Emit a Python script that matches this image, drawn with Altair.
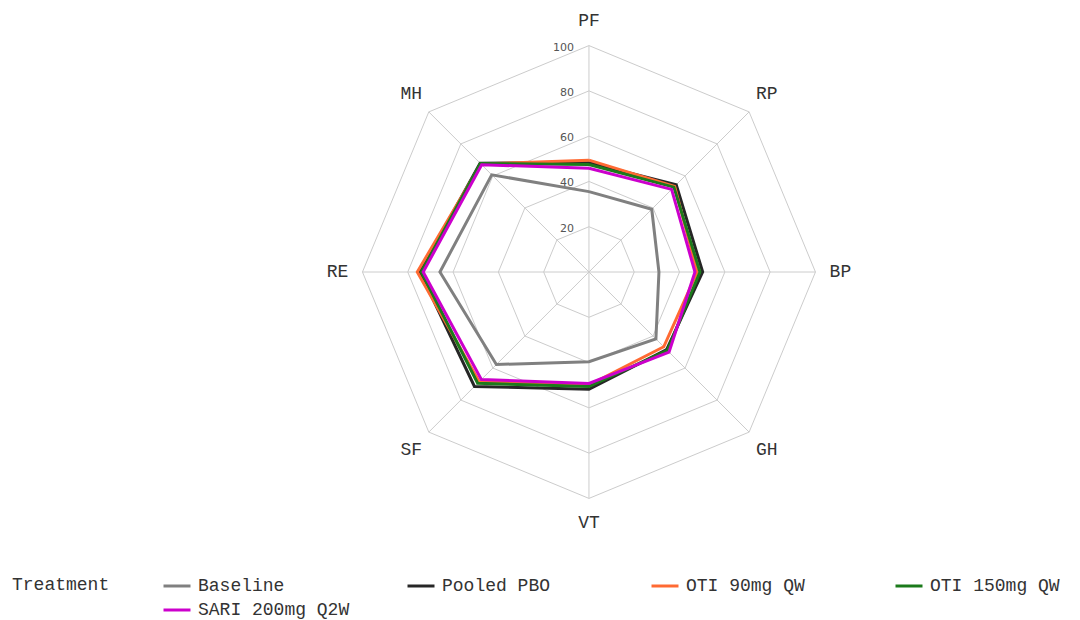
import altair as alt
import pandas as pd

categories = ["PF", "RP", "BP", "GH", "VT", "SF", "RE", "MH"]
angles_deg = [0, 45, 90, 135, 180, 225, 270, 315]
treatments = ["Baseline", "Pooled PBO", "OTI 90mg QW", "OTI 150mg QW", "SARI 200mg Q2W"]
baseline = [35.5, 39.2, 30.9, 41.8, 39.6, 57.8, 65.8, 60.7]
pooled_pbo = [48.3, 54.5, 50.2, 48.5, 51.8, 71.5, 74.6, 68.0]
oti_90 = [49.4, 53.5, 47.8, 46.7, 49.9, 68.5, 75.8, 67.5]
oti_150 = [47.5, 53.0, 49.0, 49.0, 50.6, 69.5, 74.0, 67.8]
sari_200 = [45.8, 51.6, 46.8, 50.0, 49.2, 67.2, 73.2, 67.0]
series = [baseline, pooled_pbo, oti_90, oti_150, sari_200]
colors = ["#808080", "#262626", "#ff6a33", "#1b7a1b", "#cc00cc"]
grid_levels = [20, 40, 60, 80, 100]
label_radius = 111
legend_title = "Treatment"

FONT = "Liberation Mono"

# series table (closed polygons)
rows = []
for t, vals in zip(treatments, series):
    for i in range(len(categories) + 1):
        k = i % len(categories)
        rows.append({"Treatment": t, "cat": categories[k], "deg": angles_deg[k], "value": vals[k], "idx": i})
df = pd.DataFrame(rows)

grid_rows = []
for lv in grid_levels:
    for i in range(len(categories) + 1):
        k = i % len(categories)
        grid_rows.append({"level": lv, "deg": angles_deg[k], "idx": i})
grid_df = pd.DataFrame(grid_rows)

spoke_df = pd.DataFrame({"cat": categories, "deg": angles_deg, "r": [100] * len(categories)})
label_df = pd.DataFrame({"cat": categories, "deg": angles_deg, "r": [label_radius] * len(categories)})
tick_df = pd.DataFrame({"level": grid_levels, "text": [str(v) for v in grid_levels]})
title_df = pd.DataFrame({"t": [legend_title]})

W, H = 1060, 540
xscale = alt.Scale(domain=[-256.5, 211.5], nice=False, zero=False)
yscale = alt.Scale(domain=[-121.9, 116.6], nice=False, zero=False)
noax = None

grid = alt.Chart(grid_df).transform_calculate(
    px="datum.level * sin(datum.deg * PI / 180)",
    py="datum.level * cos(datum.deg * PI / 180)",
).mark_line(color="#cccccc", strokeWidth=1).encode(
    x=alt.X("px:Q", scale=xscale, axis=noax),
    y=alt.Y("py:Q", scale=yscale, axis=noax),
    detail="level:N",
    order="idx:Q",
)

spokes = alt.Chart(spoke_df).transform_calculate(
    px="datum.r * sin(datum.deg * PI / 180)",
    py="datum.r * cos(datum.deg * PI / 180)",
    zx="0",
    zy="0",
).mark_rule(color="#cccccc", strokeWidth=1).encode(
    x=alt.X("zx:Q", scale=xscale, axis=noax),
    y=alt.Y("zy:Q", scale=yscale, axis=noax),
    x2="px:Q",
    y2="py:Q",
)

ticks = alt.Chart(tick_df).transform_calculate(zx="0").mark_text(
    align="right", baseline="middle", dx=-15, dy=2, fontSize=11, font="DejaVu Sans", color="#555555"
).encode(
    x=alt.X("zx:Q", scale=xscale, axis=noax),
    y=alt.Y("level:Q", scale=yscale, axis=noax),
    text="text:N",
)

labels = alt.Chart(label_df).transform_calculate(
    px="datum.r * sin(datum.deg * PI / 180)",
    py="datum.r * cos(datum.deg * PI / 180)",
).mark_text(align="center", baseline="middle", fontSize=18, font=FONT, color="#333333").encode(
    x=alt.X("px:Q", scale=xscale, axis=noax),
    y=alt.Y("py:Q", scale=yscale, axis=noax),
    text="cat:N",
)

title_text = alt.Chart(title_df).mark_text(
    align="left", baseline="middle", fontSize=18, font=FONT, color="#333333"
).encode(
    x=alt.value(4),
    y=alt.value(577),
    text="t:N",
)

lines = alt.Chart(df).transform_calculate(
    px="datum.value * sin(datum.deg * PI / 180)",
    py="datum.value * cos(datum.deg * PI / 180)",
).mark_line(strokeWidth=3, strokeJoin="miter").encode(
    x=alt.X("px:Q", scale=xscale, axis=noax),
    y=alt.Y("py:Q", scale=yscale, axis=noax),
    color=alt.Color(
        "Treatment:N",
        scale=alt.Scale(domain=treatments, range=colors),
        sort=treatments,
        legend=alt.Legend(
            title=None,
            orient="none",
            legendX=154,
            legendY=563,
            direction="horizontal",
            columns=4,
            gridAlign="all",
            columnPadding=51,
            rowPadding=0,
            labelFont=FONT,
            labelFontSize=18,
            labelColor="#333333",
            labelLimit=400,
            labelOffset=6,
            symbolType="stroke",
            symbolSize=729,
            symbolStrokeWidth=3,
        ),
    ),
    order="idx:Q",
)

chart = alt.layer(grid, spokes, ticks, labels, lines, title_text).properties(
    width=W, height=H, padding=0
).configure_view(stroke=None)

chart.save("out.html", embed_options={"renderer": "svg", "actions": False})
